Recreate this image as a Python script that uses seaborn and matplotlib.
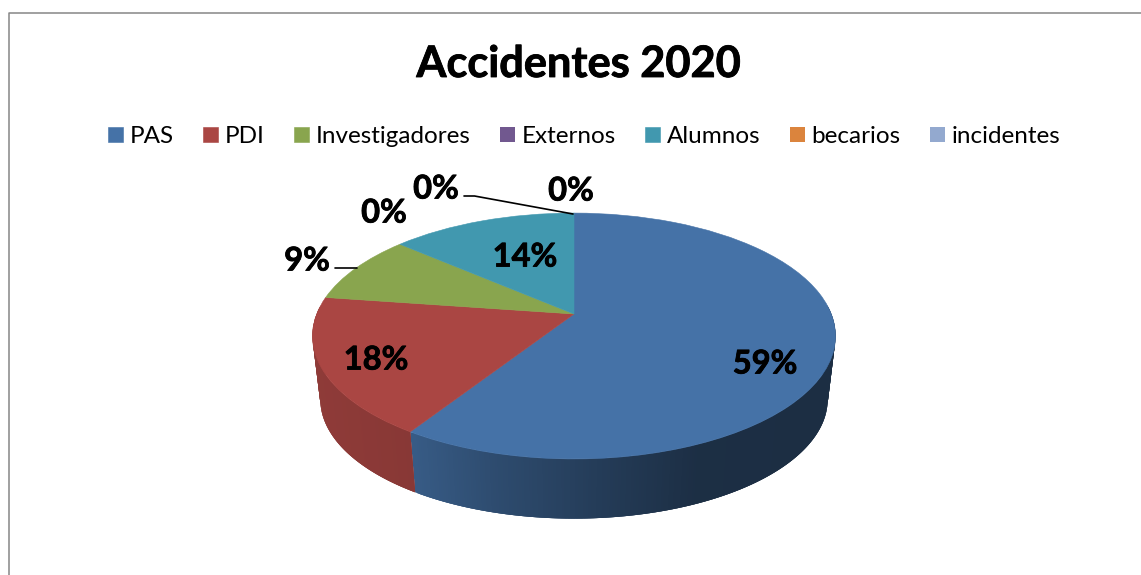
import numpy as np
import seaborn as sns
import matplotlib.pyplot as plt
import matplotlib.patheffects as pe
from matplotlib.transforms import Transform

# datos del grafico (numero de accidentes, los % salen de aqui)
categorias = ['PAS', 'PDI', 'Investigadores', 'Externos', 'Alumnos', 'becarios', 'incidentes']
valores = [13, 4, 2, 0, 3, 0, 0]
colores = ['#4572A7', '#AA4643', '#89A54E', '#71588F', '#4198AF', '#DB843D', '#93A9CF']
titulo = 'Accidentes 2020'

# donde va cada porcentaje y la geometria de la tarta, en pixeles
pos_etiquetas = [(765, 364), (376, 360), (307, 261), (384, 213), (525, 257), (436, 189), (571, 191)]
centro = (574, 314)
k = 0.179
ancho = 257.3
alto = 119
caida = 64
escala_base = 0.97


def proyectar(x, y, cx=centro[0], cy=centro[1], esc=1.0):
    # perspectiva simple: el centro de la tarta no cae en el centro de la elipse
    d = 1 + k * y
    return cx + esc * ancho * x / d, cy - esc * alto * y / d


class Perspectiva(Transform):
    input_dims = 2
    output_dims = 2

    def transform_non_affine(self, values):
        xs, ys = proyectar(values[:, 0], values[:, 1])
        return np.column_stack([xs, ys])


sns.set_theme(style='white')
plt.rcParams['font.family'] = ['Lato', 'DejaVu Sans']

fig = plt.figure(figsize=(11.41, 5.75), dpi=100)
ax = fig.add_axes([0, 0, 1, 1])

wedges, _ = ax.pie(valores, colors=sns.color_palette(colores), startangle=90,
                   counterclock=False, wedgeprops={'linewidth': 0.4})
ax.set_aspect('auto')
ax.set_xlim(0, 1141)
ax.set_ylim(575, 0)
ax.axis('off')

# cara de arriba
for w, c, v in zip(wedges, colores, valores):
    w.set_transform(Perspectiva() + ax.transData)
    # las porciones de 0% no deben dejar una raya
    w.set_edgecolor(c if v > 0 else 'none')
    w.set_zorder(3)

# pared lateral: tiras finas que se oscurecen hacia la derecha
paso = 0.5
for w, c, v in zip(wedges, sns.color_palette(colores), valores):
    if v == 0:
        continue
    for g in np.arange(w.theta1, w.theta2, paso):
        a1 = np.radians(g)
        # cada tira pisa a la siguiente para que no se vean rayas
        a2 = np.radians(min(g + 3 * paso, w.theta2))
        if np.sin(a1) > 0.05 and np.sin(a2) > 0.05:
            continue
        x1, y1 = proyectar(np.cos(a1), np.sin(a1))
        x2, y2 = proyectar(np.cos(a2), np.sin(a2))
        x3, y3 = proyectar(np.cos(a2), np.sin(a2), cy=centro[1] + caida, esc=escala_base)
        x4, y4 = proyectar(np.cos(a1), np.sin(a1), cy=centro[1] + caida, esc=escala_base)
        f = np.interp((x1 + x2) / 2, [313, 414, 500, 600, 700, 836], [0.84, 0.80, 0.66, 0.53, 0.41, 0.40])
        tono = tuple(np.array(c) * f)
        ax.fill([x1, x2, x3, x4], [y1, y2, y3, y4], facecolor=tono, edgecolor='none', zorder=2)

# marco gris del grafico, abierto por abajo y a la derecha
ax.plot([8.5, 8.5, 1141], [575, 12.5, 12.5], color='#868686', linewidth=1.1, zorder=1)

# lineas guia
ax.plot([335, 357], [268, 268], color='black', linewidth=1.2, zorder=4)
ax.plot([464, 474.5, 573], [196, 196, 214], color='black', linewidth=1.2, zorder=4)

# el trazo fino engorda la negrita, que en Lato queda mas clara
grueso = [pe.withStroke(linewidth=0.6, foreground='black')]

ax.text(579, 64, titulo, fontsize=31.2, fontweight='bold', color='black', ha='center', va='center',
        path_effects=grueso)

total = sum(valores)
for v, (px, py) in zip(valores, pos_etiquetas):
    ax.text(px, py, f'{round(100 * v / total)}%', fontsize=23.5, fontweight='bold', color='black',
            ha='center', va='center', zorder=5, path_effects=grueso)

ax.legend(wedges, categorias, ncol=7, loc='center', bbox_to_anchor=(584, 136.5),
          bbox_transform=ax.transData, frameon=False, fontsize=17.5, labelcolor='black',
          handlelength=0.62, handleheight=0.62, handletextpad=0.27, columnspacing=1.21)

plt.savefig('out.png', dpi=100)
